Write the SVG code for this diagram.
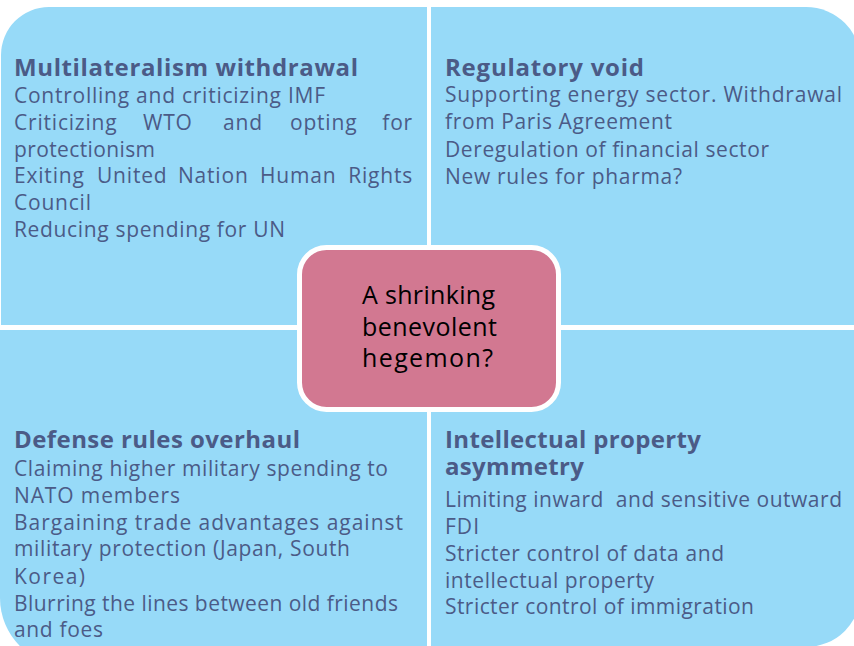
<svg xmlns="http://www.w3.org/2000/svg" width="854" height="646" viewBox="0 0 854 646">
<style>
.q{fill:#97DAF8}
.t{font-family:"Open Sans",Lato,"Liberation Sans",sans-serif;fill:#4B5B87}
.h{font-size:24px;font-weight:bold}
.b{font-size:21px}
.j{letter-spacing:0.8px}
.c{font-family:"Open Sans",Lato,"Liberation Sans",sans-serif;font-size:25px;fill:#000}
</style>
<rect width="854" height="646" fill="#fff"/>
<g id="q1">
<path class="q" d="M1,55 A48,48 0 0 1 49,7 H427 V325 H1 Z"/>
<text class="t h" x="14" y="76" textLength="344" lengthAdjust="spacing">Multilateralism withdrawal</text>
<text class="t b" x="14" y="103" textLength="311" lengthAdjust="spacing">Controlling and criticizing IMF</text>
<text class="t b j" y="130"><tspan x="14">Criticizing</tspan><tspan x="143">WTO</tspan><tspan x="223">and</tspan><tspan x="290">opting</tspan><tspan x="413" text-anchor="end">for</tspan></text>
<text class="t b" x="14" y="157" textLength="141" lengthAdjust="spacing">protectionism</text>
<text class="t b j" y="183"><tspan x="14">Exiting</tspan><tspan x="97">United</tspan><tspan x="178">Nation</tspan><tspan x="260">Human</tspan><tspan x="413" text-anchor="end">Rights</tspan></text>
<text class="t b" x="14" y="210" textLength="77" lengthAdjust="spacing">Council</text>
<text class="t b" x="14" y="237" textLength="271" lengthAdjust="spacing">Reducing spending for UN</text>
</g>
<g id="q2">
<path class="q" d="M431,7 H806 A55,55 0 0 1 861,62 V325 H431 Z"/>
<text class="t h" x="445" y="76" textLength="199" lengthAdjust="spacing">Regulatory void</text>
<text class="t b" x="445" y="102" textLength="397" lengthAdjust="spacing">Supporting energy sector. Withdrawal</text>
<text class="t b" x="445" y="129" textLength="227" lengthAdjust="spacing">from Paris Agreement</text>
<text class="t b" x="445" y="157" textLength="324" lengthAdjust="spacing">Deregulation of financial sector</text>
<text class="t b" x="445" y="184" textLength="237" lengthAdjust="spacing">New rules for pharma?</text>
</g>
<g id="q3">
<path class="q" d="M0,330 H427 V666 H68 A68,68 0 0 1 0,598 Z"/>
<text class="t h" x="14" y="448" textLength="286" lengthAdjust="spacing">Defense rules overhaul</text>
<text class="t b" x="14" y="476" textLength="374" lengthAdjust="spacing">Claiming higher military spending to</text>
<text class="t b" x="14" y="503" textLength="166" lengthAdjust="spacing">NATO members</text>
<text class="t b" x="14" y="530" textLength="389" lengthAdjust="spacing">Bargaining trade advantages against</text>
<text class="t b" x="14" y="556" textLength="336" lengthAdjust="spacing">military protection (Japan, South</text>
<text class="t b" x="14" y="584" textLength="71" lengthAdjust="spacing">Korea)</text>
<text class="t b" x="14" y="611" textLength="384" lengthAdjust="spacing">Blurring the lines between old friends</text>
<text class="t b" x="14" y="637" textLength="89" lengthAdjust="spacing">and foes</text>
</g>
<g id="q4">
<path class="q" d="M431,330 H861 V592 A55,55 0 0 1 806,647 H431 Z"/>
<text class="t h" x="445" y="448" textLength="256" lengthAdjust="spacing">Intellectual property</text>
<text class="t h" x="445" y="475" textLength="139" lengthAdjust="spacing">asymmetry</text>
<text class="t b" x="445" y="507" xml:space="preserve" textLength="397" lengthAdjust="spacing">Limiting inward  and sensitive outward</text>
<text class="t b" x="445" y="534" textLength="34" lengthAdjust="spacing">FDI</text>
<text class="t b" x="445" y="561" textLength="279" lengthAdjust="spacing">Stricter control of data and</text>
<text class="t b" x="445" y="588" textLength="209" lengthAdjust="spacing">intellectual property</text>
<text class="t b" x="445" y="614" textLength="309" lengthAdjust="spacing">Stricter control of immigration</text>
</g>
<g id="center">
<rect x="299.5" y="247.5" width="259" height="162" rx="27" fill="#D27891" stroke="#fff" stroke-width="5"/>
<text class="c" x="362" y="304" textLength="133" lengthAdjust="spacing">A shrinking</text>
<text class="c" x="362" y="336" textLength="135" lengthAdjust="spacing">benevolent</text>
<text class="c" x="362" y="367" textLength="131" lengthAdjust="spacing">hegemon?</text>
</g>
<g id="connectors"/>
</svg>
